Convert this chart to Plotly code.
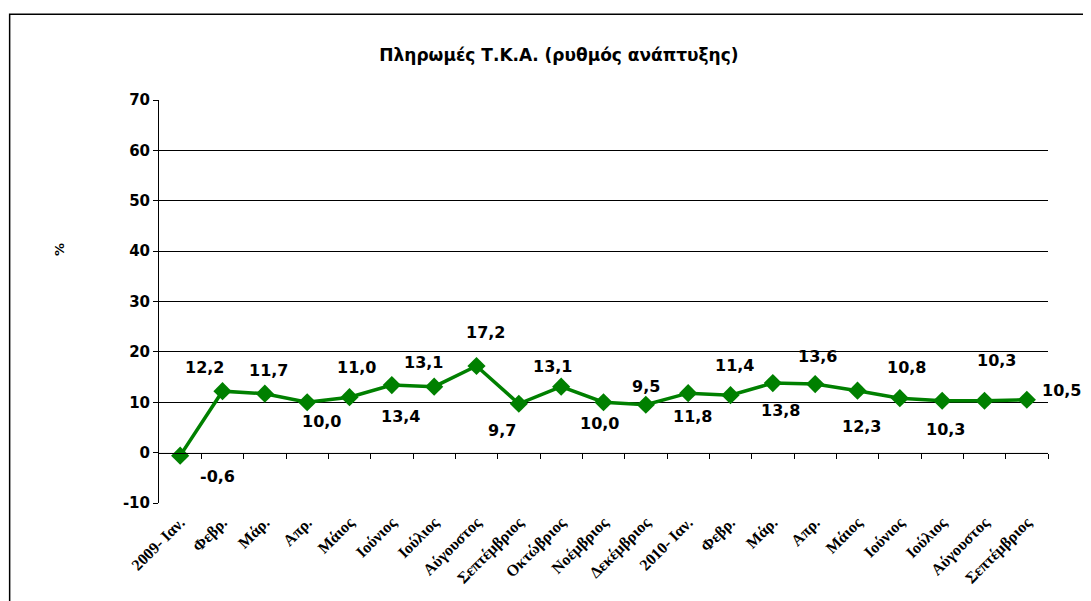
# Πληρωμές Τ.Κ.Α. - ρυθμός ανάπτυξης (%)
import plotly.graph_objects as go

# δεδομένα
mines = ['2009- Ιαν.', 'Φεβρ.', 'Μάρ.', 'Απρ.', 'Μάιος', 'Ιούνιος', 'Ιούλιος',
         'Αύγουστος', 'Σεπτέμβριος', 'Οκτώβριος', 'Νοέμβριος', 'Δεκέμβριος',
         '2010- Ιαν.', 'Φεβρ.', 'Μάρ.', 'Απρ.', 'Μάιος', 'Ιούνιος', 'Ιούλιος',
         'Αύγουστος', 'Σεπτέμβριος']
rythmos = [-0.6, 12.2, 11.7, 10.0, 11.0, 13.4, 13.1, 17.2, 9.7, 13.1, 10.0,
           9.5, 11.8, 11.4, 13.8, 13.6, 12.3, 10.8, 10.3, 10.3, 10.5]
y_ticks = [-10, 0, 10, 20, 30, 40, 50, 60, 70]
y_grid = [10, 20, 30, 40, 50, 60]

# μετατοπίσεις ετικετών (pixels) όπως στο Excel
lbl_dx = [37, -18, 4, 14, 7, 9, -11, 9, -17, -9, -4, 0, 4, 4, 8, 2, 4, 7, 3, 12, 35]
lbl_dy = [-21, 24, 23, -19, 30, -31, 24, 33, -27, 20, -21, 18, -23, 30, -27, 28, -36, 31, -29, 40, 9]

x = list(range(len(mines)))
x_rng = [-0.5, len(mines) - 0.5]
y_rng = [y_ticks[0], y_ticks[-1]]

GREEN = '#008000'
FONT = 'DejaVu Sans'

fig = go.Figure()
fig.add_trace(go.Scatter(x=x, y=rythmos, mode='lines+markers',
                         line=dict(color=GREEN, width=3.5),
                         marker=dict(symbol='diamond', size=14, color=GREEN),
                         showlegend=False, hoverinfo='skip'))
# βοηθητικό αόρατο trace για τους δεύτερους άξονες
fig.add_trace(go.Scatter(x=x, y=rythmos, xaxis='x2', yaxis='y2', mode='markers',
                         marker=dict(opacity=0), showlegend=False, hoverinfo='skip'))

for i, v in enumerate(rythmos):
    fig.add_annotation(x=i, y=v, text='<b>' + f'{v:.1f}'.replace('.', ',') + '</b>',
                       showarrow=False, xshift=lbl_dx[i], yshift=lbl_dy[i],
                       font=dict(family=FONT, size=16, color='black'))

fig.add_annotation(text='<b>%</b>', xref='paper', yref='paper', x=-0.122, y=0.628,
                   textangle=-90, showarrow=False,
                   font=dict(family=FONT, size=13, color='black'))

# πλαίσιο γραφήματος
fig.add_shape(type='rect', xref='paper', yref='paper', x0=-0.168, x1=1.1,
              y0=-0.5, y1=1.213, line=dict(color='black', width=1.5), layer='below')

# η σελίδα έχει περιθώριο 8px, οπότε μετακινούμε λίγο το γράφημα
fig.update_layout(
    width=1091, height=601,
    margin=dict(l=151, r=51, t=92, b=106, autoexpand=False),
    plot_bgcolor='white', paper_bgcolor='white',
    title=dict(text='<b>Πληρωμές Τ.Κ.Α. (ρυθμός ανάπτυξης)</b>', x=0.505, y=0.922,
               xanchor='center', yanchor='middle',
               font=dict(family=FONT, size=17, color='black')),
    xaxis=dict(range=x_rng, tickvals=x, ticktext=['<b>' + m + '</b>' for m in mines],
               tickangle=-45, showgrid=False, showline=False, ticks='', zeroline=False,
               automargin=False, ticklabelstandoff=6,
               tickfont=dict(family='Liberation Serif', size=16, color='black')),
    xaxis2=dict(range=x_rng, overlaying='x', anchor='free',
                position=(0 - y_rng[0]) / (y_rng[1] - y_rng[0]),
                tickvals=[i + 0.5 for i in x], showticklabels=False,
                ticks='outside', ticklen=5, tickcolor='black',
                showline=True, linecolor='black', linewidth=1,
                showgrid=False, zeroline=False, automargin=False),
    yaxis=dict(range=y_rng, tickvals=y_ticks, ticktext=['<b>%d</b>' % t for t in y_ticks],
               showgrid=True, gridcolor='#eeeeee', zeroline=False,
               showline=True, linecolor='black', linewidth=1,
               ticks='outside', ticklen=5, tickcolor='black', automargin=False,
               tickfont=dict(family=FONT, size=15, color='black')),
    yaxis2=dict(range=y_rng, overlaying='y', tickvals=y_grid, showticklabels=False,
                showgrid=True, gridcolor='black', gridwidth=1, zeroline=False,
                showline=False, ticks='', automargin=False),
)

fig.write_html('out.html')
